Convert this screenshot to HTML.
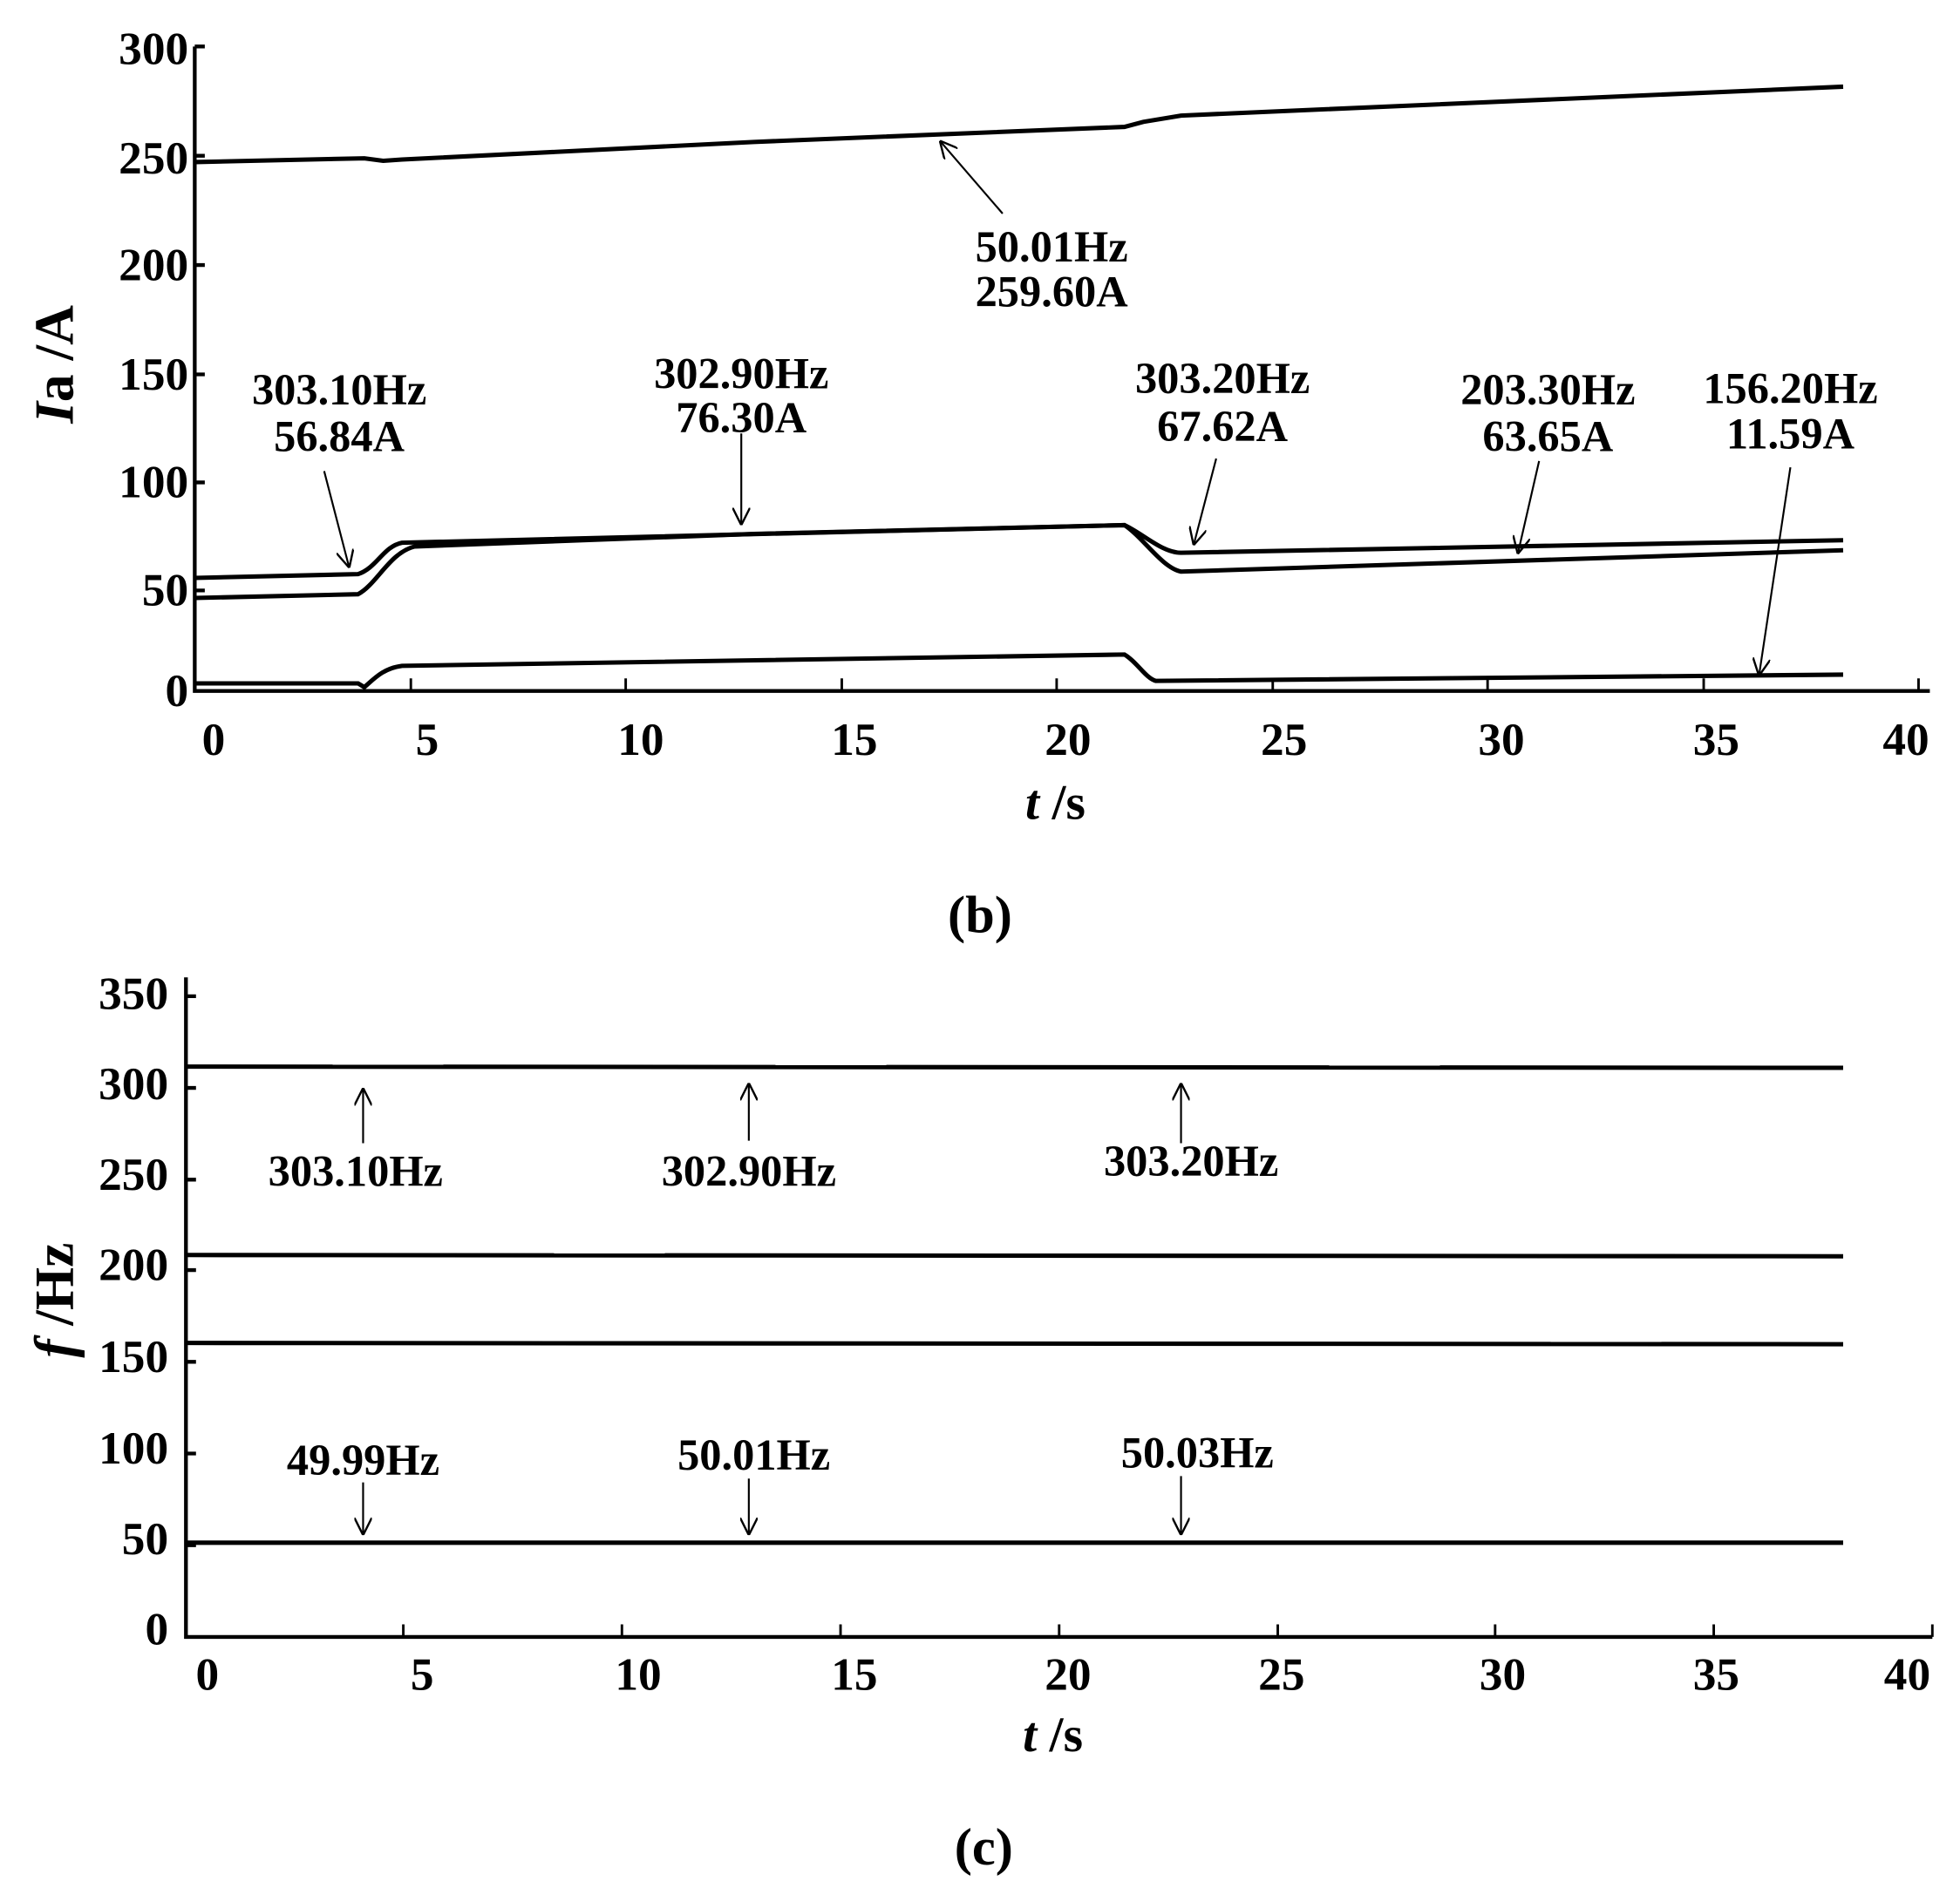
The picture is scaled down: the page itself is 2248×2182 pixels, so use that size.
<!DOCTYPE html>
<html><head><meta charset="utf-8"><style>
html,body{margin:0;padding:0;background:#fff;}
svg{display:block;}
text{font-family:"Liberation Serif",serif;font-weight:bold;fill:#000;}
</style></head><body>
<svg width="2248" height="2182" viewBox="0 0 1560 1514" preserveAspectRatio="none" xmlns="http://www.w3.org/2000/svg">
<defs>
<marker id="ah" viewBox="0 0 10 10" refX="10" refY="5" markerWidth="14" markerHeight="14" markerUnits="userSpaceOnUse" orient="auto"><path d="M0,0 L10,5 L0,10" fill="none" stroke="#000" stroke-width="1.2"/></marker>
</defs>
<!-- TOP PLOT (b) -->
<g stroke="#000" fill="none">
<path d="M155,37 V550 H1536" stroke-width="3"/>
<path d="M155,37 h8 M155,124 h8 M155,211 h8 M155,298 h8 M155,384 h8 M155,470 h8" stroke-width="3"/>
<path d="M327,550 v-10 M498,550 v-10 M670,550 v-10 M841,550 v-10 M1013,550 v-10 M1184,550 v-10 M1356,550 v-10 M1527,550 v-10" stroke-width="2"/>
<path d="M155,129 L290,126 L305,128 L320,127 L600,113 L895,101 L910,97 L940,92 L1467,69" stroke-width="3.5"/>
<path d="M155,460 L285,457 C300,452 305,435 320,432 L895,418 C910,425 925,440 940,440 L1467,430" stroke-width="3.5"/>
<path d="M155,476 L285,473 C300,465 310,440 330,435 L600,425 L895,418 C910,428 925,452 940,455 L1467,438" stroke-width="3.5"/>
<path d="M155,544 L285,544 L290,547 C298,540 305,532 320,530 L895,521 C905,527 912,540 920,542 L1467,537" stroke-width="3.5"/>
<g stroke-width="1.5">
<line x1="798" y1="170" x2="748" y2="112" marker-end="url(#ah)"/>
<line x1="258" y1="375" x2="278" y2="452" marker-end="url(#ah)"/>
<line x1="590" y1="345" x2="590" y2="418" marker-end="url(#ah)"/>
<line x1="968" y1="365" x2="950" y2="434" marker-end="url(#ah)"/>
<line x1="1225" y1="367" x2="1208" y2="441" marker-end="url(#ah)"/>
<line x1="1425" y1="372" x2="1400" y2="538" marker-end="url(#ah)"/>
</g>
</g>
<g font-size="37" text-anchor="end">
<text x="150" y="51">300</text><text x="150" y="138">250</text><text x="150" y="223">200</text>
<text x="150" y="310">150</text><text x="150" y="396">100</text><text x="150" y="482">50</text><text x="150" y="562">0</text>
</g>
<g font-size="37" text-anchor="middle">
<text x="170" y="601">0</text><text x="340" y="601">5</text><text x="510" y="601">10</text><text x="680" y="601">15</text>
<text x="850" y="601">20</text><text x="1022" y="601">25</text><text x="1195" y="601">30</text><text x="1366" y="601">35</text><text x="1517" y="601">40</text>
</g>
<g font-size="35" text-anchor="middle">
<text x="837" y="208">50.01Hz</text><text x="837" y="244">259.60A</text>
<text x="270" y="322">303.10Hz</text><text x="270" y="359">56.84A</text>
<text x="590" y="309">302.90Hz</text><text x="590" y="344">76.30A</text>
<text x="973" y="313">303.20Hz</text><text x="973" y="351">67.62A</text>
<text x="1232" y="322">203.30Hz</text><text x="1232" y="359">63.65A</text>
<text x="1425" y="321">156.20Hz</text><text x="1425" y="357">11.59A</text>
<text x="840" y="652" font-size="40"><tspan font-style="italic">t</tspan> /s</text>
<text x="780" y="742" font-size="42">(b)</text>
<text transform="translate(58,290) rotate(-90)" font-size="44"><tspan font-style="italic">I</tspan>a /A</text>
</g>
<!-- BOTTOM PLOT (c) -->
<g stroke="#000" fill="none">
<path d="M148,778 V1303 H1538" stroke-width="3"/>
<path d="M148,793 h8 M148,866 h8 M148,939 h8 M148,1011 h8 M148,1084 h8 M148,1157 h8 M148,1230 h8" stroke-width="3"/>
<path d="M321,1303 v-10 M495,1303 v-10 M669,1303 v-10 M843,1303 v-10 M1017,1303 v-10 M1190,1303 v-10 M1364,1303 v-10 M1538,1303 v-10" stroke-width="2"/>
<path d="M148,849 L1467,850" stroke-width="3.5"/>
<path d="M148,999 L1467,1000" stroke-width="3.5"/>
<path d="M148,1069 L1467,1070" stroke-width="3.5"/>
<path d="M148,1228 L1467,1228" stroke-width="3.5"/>
<g stroke-width="1.5">
<line x1="289" y1="910" x2="289" y2="866" marker-end="url(#ah)"/>
<line x1="596" y1="908" x2="596" y2="862" marker-end="url(#ah)"/>
<line x1="940" y1="910" x2="940" y2="862" marker-end="url(#ah)"/>
<line x1="289" y1="1180" x2="289" y2="1222" marker-end="url(#ah)"/>
<line x1="596" y1="1177" x2="596" y2="1222" marker-end="url(#ah)"/>
<line x1="940" y1="1175" x2="940" y2="1222" marker-end="url(#ah)"/>
</g>
</g>
<g font-size="37" text-anchor="end">
<text x="134" y="803">350</text><text x="134" y="875">300</text><text x="134" y="947">250</text><text x="134" y="1019">200</text>
<text x="134" y="1092">150</text><text x="134" y="1165">100</text><text x="134" y="1237">50</text><text x="134" y="1309">0</text>
</g>
<g font-size="37" text-anchor="middle">
<text x="165" y="1345">0</text><text x="336" y="1345">5</text><text x="508" y="1345">10</text><text x="680" y="1345">15</text>
<text x="850" y="1345">20</text><text x="1020" y="1345">25</text><text x="1196" y="1345">30</text><text x="1366" y="1345">35</text><text x="1518" y="1345">40</text>
</g>
<g font-size="35" text-anchor="middle">
<text x="283" y="944">303.10Hz</text><text x="596" y="944">302.90Hz</text><text x="948" y="936">303.20Hz</text>
<text x="289" y="1174">49.99Hz</text><text x="600" y="1170">50.01Hz</text><text x="953" y="1168">50.03Hz</text>
<text x="838" y="1394" font-size="40"><tspan font-style="italic">t</tspan> /s</text>
<text x="783" y="1484" font-size="42">(c)</text>
<text transform="translate(58,1035) rotate(-90)" font-size="44"><tspan font-style="italic">f</tspan> /Hz</text>
</g>
</svg>
</body></html>
